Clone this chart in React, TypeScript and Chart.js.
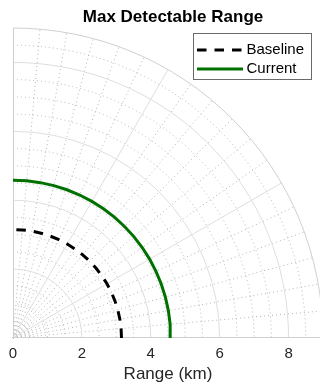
import { useEffect, useRef } from "react";
import { Chart, registerables } from "chart.js";

Chart.register(...registerables);

// ---- data ----
const TITLE = "Max Detectable Range";
const X_LABEL = "Range (km)";
const X_TICKS = [0, 2, 4, 6, 8];
const R_MAX = 9;
const R_MAJOR = [2, 4, 6, 8];
const R_MINOR = [0.5, 1, 1.5, 2.5, 3, 3.5, 4.5, 5, 5.5, 6.5, 7, 7.5, 8.5];
const THETA_MAJOR = [30, 60];
const THETA_MINOR = [5, 10, 15, 20, 25, 35, 40, 45, 50, 55, 65, 70, 75, 80, 85];
const SERIES_LABELS = ["Baseline", "Current"];
const SERIES_RANGE_KM = [3.15, 4.58];
const SWEEP_DEG = [0, 5, 10, 15, 20, 25, 30, 35, 40, 45, 50, 55, 60, 65, 70, 75, 80, 85, 90];

const FONT = "'Liberation Sans', Arial, Helvetica, sans-serif";

const polarPoints = (r: number) =>
  SWEEP_DEG.map((d) => ({
    x: r * Math.cos((d * Math.PI) / 180),
    y: r * Math.sin((d * Math.PI) / 180),
  }));

const polarGrid = {
  id: "polarGrid",
  beforeDatasetsDraw(chart: any) {
    const { ctx } = chart;
    const xs = chart.scales.x;
    const ys = chart.scales.y;
    const cx = xs.getPixelForValue(0);
    const cy = ys.getPixelForValue(0);
    const rp = (r: number) => xs.getPixelForValue(r) - cx;
    const spoke = (deg: number) => {
      const a = (deg * Math.PI) / 180;
      const R = rp(R_MAX);
      ctx.beginPath();
      ctx.moveTo(cx, cy);
      ctx.lineTo(cx + R * Math.cos(a), cy - R * Math.sin(a));
      ctx.stroke();
    };
    const arc = (r: number) => {
      ctx.beginPath();
      ctx.arc(cx, cy, rp(r), -Math.PI / 2, 0);
      ctx.stroke();
    };
    ctx.save();
    ctx.lineWidth = 1;
    // minor dotted grid
    ctx.strokeStyle = "#b4b4b4";
    ctx.setLineDash([1, 3]);
    R_MINOR.forEach(arc);
    THETA_MINOR.forEach(spoke);
    // major grid
    ctx.setLineDash([]);
    ctx.strokeStyle = "#dedede";
    R_MAJOR.forEach(arc);
    THETA_MAJOR.forEach(spoke);
    // edges
    ctx.strokeStyle = "#cfcfcf";
    arc(R_MAX);
    ctx.beginPath();
    ctx.moveTo(cx + 0.5, cy);
    ctx.lineTo(cx + 0.5, ys.getPixelForValue(R_MAX));
    ctx.stroke();
    ctx.beginPath();
    ctx.moveTo(cx, cy - 0.5);
    ctx.lineTo(xs.getPixelForValue(R_MAX), cy - 0.5);
    ctx.stroke();
    ctx.restore();
  },
};

const overlay = {
  id: "overlay",
  afterDraw(chart: any) {
    const { ctx } = chart;
    ctx.save();
    // title
    ctx.font = `bold 17px ${FONT}`;
    ctx.fillStyle = "#000";
    ctx.textAlign = "center";
    ctx.textBaseline = "alphabetic";
    ctx.fillText(TITLE, 173, 22);
    // legend box
    const bx = 193.5, by = 33.5, bw = 118, bh = 46;
    ctx.fillStyle = "#fff";
    ctx.fillRect(bx, by, bw, bh);
    ctx.strokeStyle = "#6a6a6a";
    ctx.lineWidth = 1;
    ctx.strokeRect(bx, by, bw, bh);
    const rows = [50, 69];
    chart.data.datasets.forEach((ds: any, i: number) => {
      const y = rows[i];
      ctx.beginPath();
      ctx.setLineDash(ds.borderDash || []);
      ctx.strokeStyle = ds.borderColor;
      ctx.lineWidth = ds.borderWidth;
      ctx.moveTo(197, y);
      ctx.lineTo(243, y);
      ctx.stroke();
      ctx.setLineDash([]);
      ctx.font = `15px ${FONT}`;
      ctx.fillStyle = "#000";
      ctx.textAlign = "left";
      ctx.textBaseline = "middle";
      ctx.fillText(ds.label, 246.5, y);
    });
    ctx.restore();
  },
};

export default function App() {
  const ref = useRef<HTMLCanvasElement>(null);
  useEffect(() => {
    const canvas = ref.current!;
    const chart = new Chart(canvas, {
      type: "scatter",
      data: {
        datasets: [
          {
            label: SERIES_LABELS[0],
            data: polarPoints(SERIES_RANGE_KM[0]),
            showLine: true,
            borderColor: "#000000",
            borderWidth: 3,
            borderDash: [9.5, 8],
            pointRadius: 0,
            fill: false,
          },
          {
            label: SERIES_LABELS[1],
            data: polarPoints(SERIES_RANGE_KM[1]),
            showLine: true,
            borderColor: "#007000",
            borderWidth: 3,
            pointRadius: 0,
            fill: false,
          },
        ],
      },
      options: {
        animation: false,
        responsive: false,
        devicePixelRatio: 1,
        layout: { padding: { left: 13, right: 7, top: 28, bottom: 0 } },
        plugins: {
          legend: { display: false },
          title: { display: false },
          tooltip: { enabled: false },
        },
        scales: {
          x: {
            type: "linear",
            min: 0,
            max: R_MAX,
            afterBuildTicks: (s: any) => {
              s.ticks = X_TICKS.map((v) => ({ value: v }));
            },
            afterFit: (s: any) => {
              s.height = 48;
            },
            grid: { display: false, drawTicks: false },
            border: { display: false },
            ticks: {
              font: { family: FONT, size: 15 },
              color: "#262626",
              padding: 7,
              maxRotation: 0,
              autoSkip: false,
            },
            title: {
              display: true,
              text: X_LABEL,
              font: { family: FONT, size: 17 },
              color: "#262626",
              padding: { top: 0, bottom: 1 },
            },
          },
          y: { type: "linear", min: 0, max: R_MAX, display: false },
        },
      },
      plugins: [polarGrid, overlay],
    } as any);
    return () => chart.destroy();
  }, []);
  return (
    <div
      style={{
        position: "fixed",
        left: 0,
        top: 0,
        width: 320,
        height: 386,
        overflow: "hidden",
        background: "#fff",
      }}
    >
      <canvas ref={ref} width={330} height={386} style={{ display: "block", width: 330, height: 386 }} />
    </div>
  );
}
